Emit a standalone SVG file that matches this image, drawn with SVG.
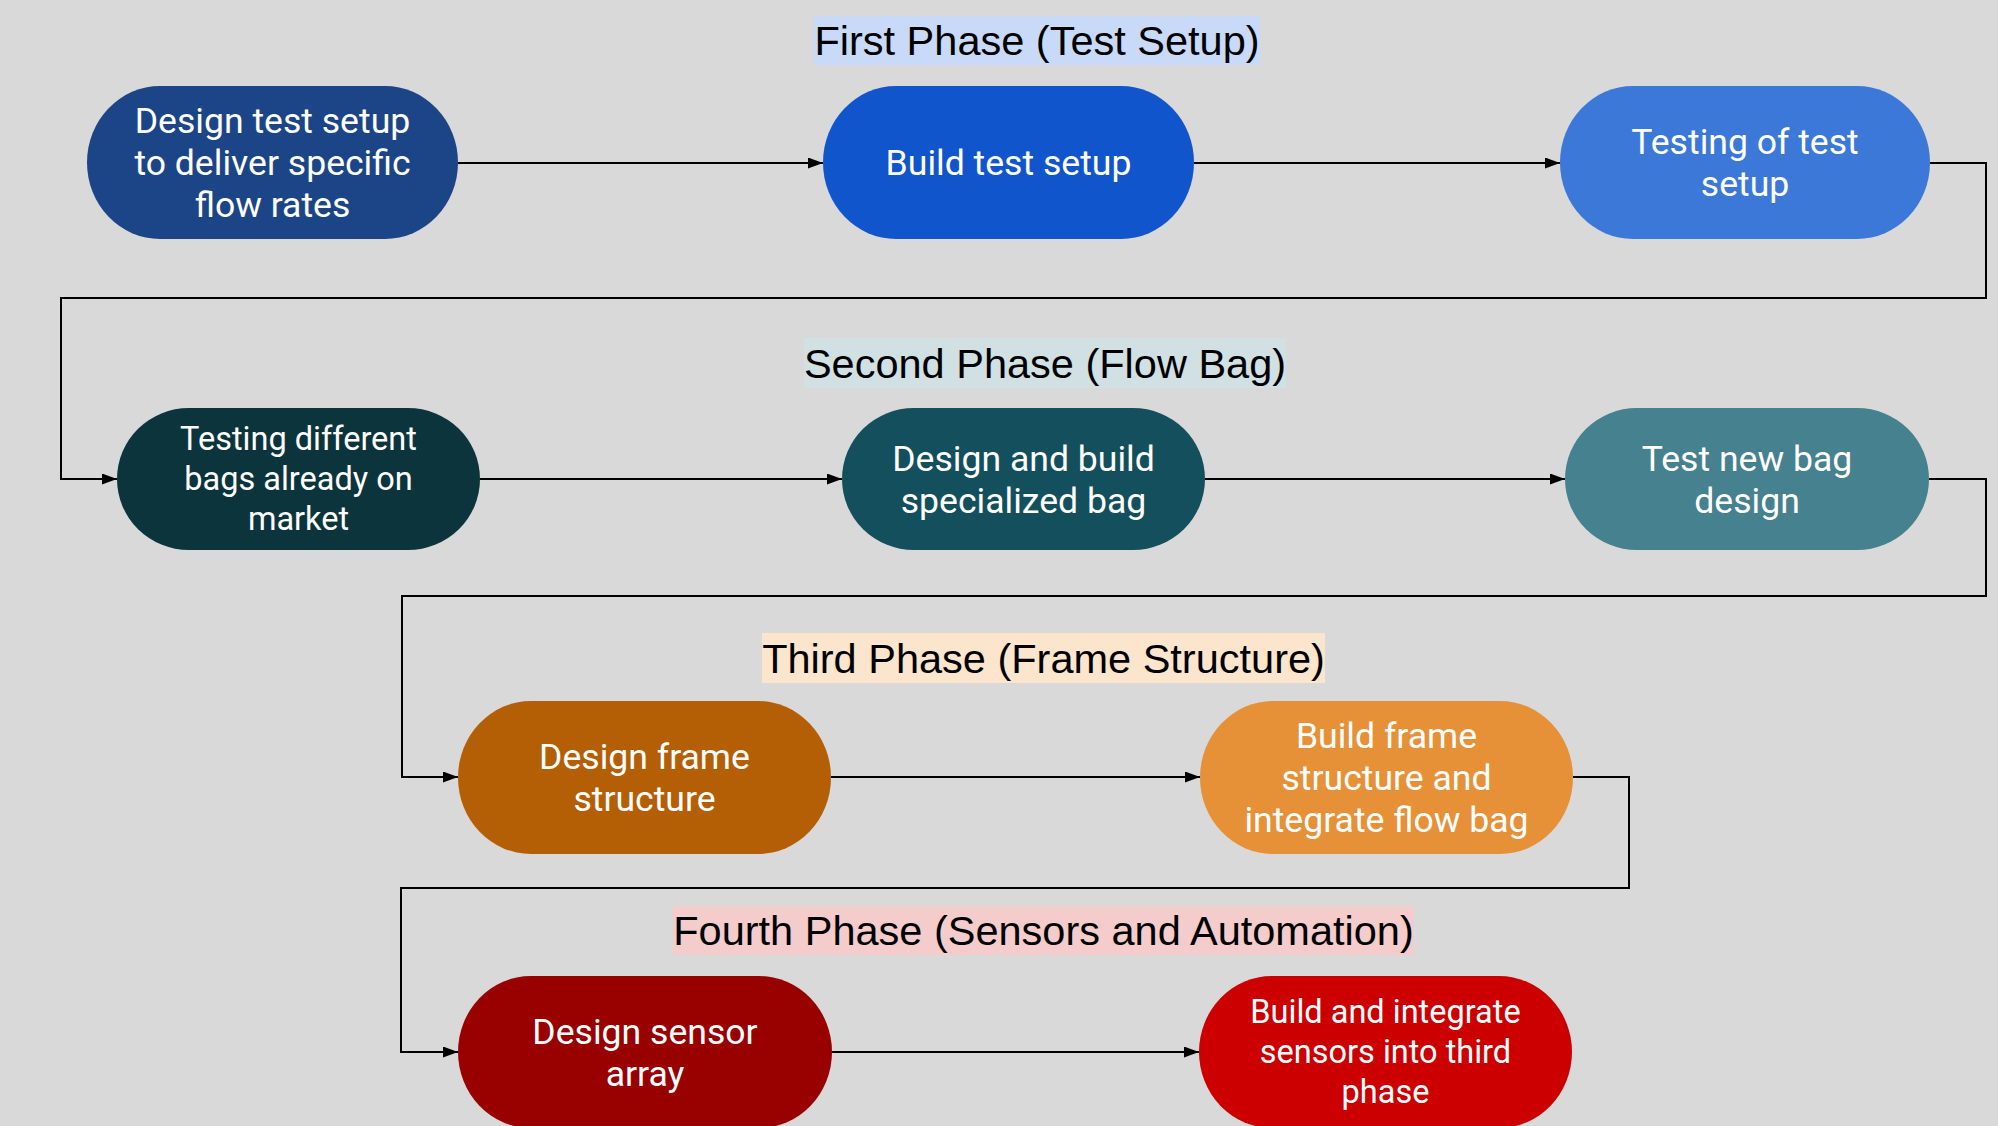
<svg xmlns="http://www.w3.org/2000/svg" width="1998" height="1126" viewBox="0 0 1998 1126">
<style>
.bg{fill:#d9d9d9}
.lbl{font-family:"Liberation Sans",Arial,sans-serif;font-size:41.5px;fill:#000;text-anchor:middle}
.nt{font-family:Roboto,"Noto Sans",sans-serif;font-size:35.6px;fill:#fff;text-anchor:middle}
.ns{font-size:32.5px}
.cn{fill:none;stroke:#000;stroke-width:2}
</style>
<defs>
<marker id="arr" markerUnits="userSpaceOnUse" markerWidth="15" markerHeight="11" refX="15" refY="5.5" orient="auto">
<path d="M0,0 L15,5.5 L0,11 z" fill="#000"/>
</marker>
</defs>
<rect class="bg" x="0" y="0" width="1998" height="1126"/>

<g id="phase-labels">
<g id="label1"><rect x="814" y="16" width="446" height="49" fill="#c9daf8"/><text class="lbl" x="1037" y="55">First Phase (Test Setup)</text></g>
<g id="label2"><rect x="804" y="338" width="482" height="50" fill="#d0e0e3"/><text class="lbl" x="1045" y="378">Second Phase (Flow Bag)</text></g>
<g id="label3"><rect x="762" y="633" width="563" height="50" fill="#fce5cd"/><text class="lbl" x="1043.5" y="673">Third Phase (Frame Structure)</text></g>
<g id="label4"><rect x="673" y="906" width="741" height="49" fill="#f4cccc"/><text class="lbl" x="1043.5" y="945">Fourth Phase (Sensors and Automation)</text></g>
</g>

<g id="connectors">
<path class="cn" d="M458,163 H823" marker-end="url(#arr)"/>
<path class="cn" d="M1194,163 H1560" marker-end="url(#arr)"/>
<path class="cn" d="M1930,163 H1986 V298 H61 V479 H117" marker-end="url(#arr)"/>
<path class="cn" d="M480,479 H842" marker-end="url(#arr)"/>
<path class="cn" d="M1205,479 H1565" marker-end="url(#arr)"/>
<path class="cn" d="M1929,479 H1986 V596 H402 V777 H458" marker-end="url(#arr)"/>
<path class="cn" d="M831,777 H1200" marker-end="url(#arr)"/>
<path class="cn" d="M1573,777 H1629 V888 H401 V1052 H458" marker-end="url(#arr)"/>
<path class="cn" d="M832,1052 H1199" marker-end="url(#arr)"/>
</g>

<g id="n1"><rect x="87" y="86" width="371" height="153" rx="73" ry="76.5" fill="#1c4587"/>
<text class="nt" x="272.5" y="133">Design test setup</text><text class="nt" x="272.5" y="175">to deliver specific</text><text class="nt" x="272.5" y="217">flow rates</text></g>
<g id="n2"><rect x="823" y="86" width="371" height="153" rx="73" ry="76.5" fill="#1155cc"/>
<text class="nt" x="1008.5" y="175">Build test setup</text></g>
<g id="n3"><rect x="1560" y="86" width="370" height="153" rx="73" ry="76.5" fill="#3c78d8"/>
<text class="nt" x="1745" y="154">Testing of test</text><text class="nt" x="1745" y="196">setup</text></g>

<g id="n4"><rect x="117" y="408" width="363" height="142" rx="72" ry="71" fill="#0c343d"/>
<text class="nt ns" x="298.5" y="450">Testing different</text><text class="nt ns" x="298.5" y="490">bags already on</text><text class="nt ns" x="298.5" y="530">market</text></g>
<g id="n5"><rect x="842" y="408" width="363" height="142" rx="72" ry="71" fill="#134f5c"/>
<text class="nt" x="1023.5" y="470.5">Design and build</text><text class="nt" x="1023.5" y="512.5">specialized bag</text></g>
<g id="n6"><rect x="1565" y="408" width="364" height="142" rx="72" ry="71" fill="#45818e"/>
<text class="nt" x="1747" y="470.5">Test new bag</text><text class="nt" x="1747" y="512.5">design</text></g>

<g id="n7"><rect x="458" y="701" width="373" height="153" rx="73" ry="76.5" fill="#b45f06"/>
<text class="nt" x="644.5" y="769">Design frame</text><text class="nt" x="644.5" y="811">structure</text></g>
<g id="n8"><rect x="1200" y="701" width="373" height="153" rx="73" ry="76.5" fill="#e69138"/>
<text class="nt" x="1386.5" y="748">Build frame</text><text class="nt" x="1386.5" y="790">structure and</text><text class="nt" x="1386.5" y="832">integrate flow bag</text></g>

<g id="n9"><rect x="458" y="976" width="374" height="152" rx="73" ry="76" fill="#990000"/>
<text class="nt" x="645" y="1043.5">Design sensor</text><text class="nt" x="645" y="1085.5">array</text></g>
<g id="n10"><rect x="1199" y="976" width="373" height="152" rx="73" ry="76" fill="#cc0000"/>
<text class="nt ns" x="1385.5" y="1023">Build and integrate</text><text class="nt ns" x="1385.5" y="1063">sensors into third</text><text class="nt ns" x="1385.5" y="1103">phase</text></g>
</svg>
